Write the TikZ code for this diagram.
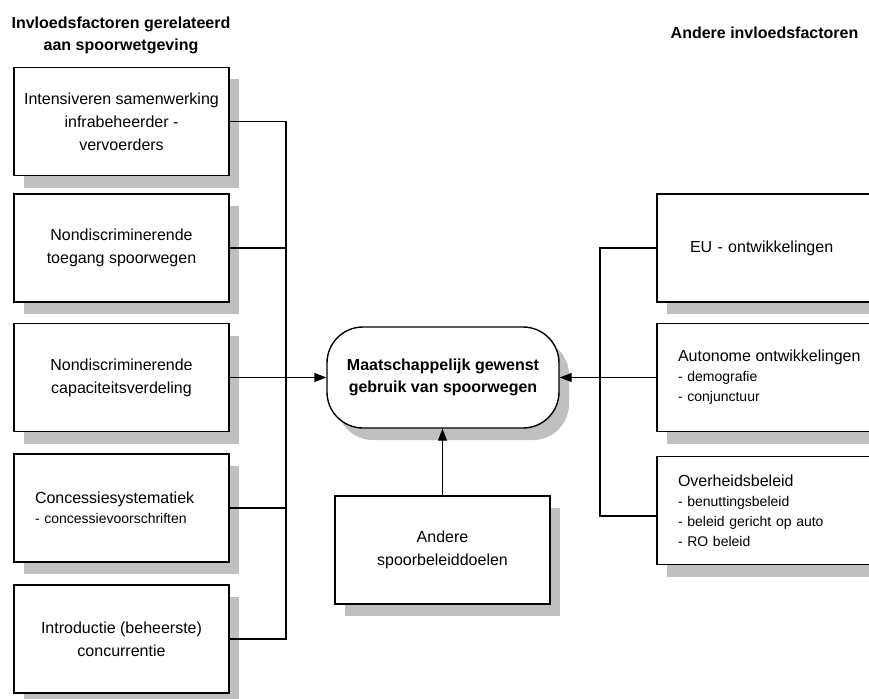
\documentclass[tikz,border=0pt]{standalone}
\usepackage{fontspec}
\setmainfont{Liberation Sans}
\usetikzlibrary{arrows.meta,shadows,calc}
\definecolor{shadowgray}{HTML}{C0C0C0}
\tikzset{
  boxbase/.style={draw=black, line width=1.4pt, fill=white, rectangle, inner sep=0pt,
    general shadow={fill=shadowgray, shadow xshift=10pt, shadow yshift=-12pt}},
  leftbox/.style={boxbase, minimum width=215pt, minimum height=108pt, align=center,
    font=\fontsize{16}{23}\selectfont},
  listbox/.style={boxbase, minimum width=215pt, minimum height=108pt, align=left,
    text width=173pt, inner xsep=21pt, font=\fontsize{14}{20}\selectfont},
  rightbox/.style={boxbase, minimum width=240pt, minimum height=108pt, align=left,
    text width=198pt, inner xsep=21pt, font=\fontsize{14}{20}\selectfont},
  goalbox/.style={boxbase, rounded corners=36pt, minimum width=232pt, minimum height=101pt,
    align=center, font=\bfseries\fontsize{16}{22}\selectfont},
  title/.style={font=\bfseries\fontsize{16}{22}\selectfont, align=center, inner sep=0pt},
  link/.style={line width=1.4pt},
  arrowlink/.style={link, -{Triangle[length=12pt,width=9pt]}}
}
\begin{document}
\begin{tikzpicture}[x=1pt,y=-1pt]
  \useasboundingbox (0,0) rectangle (869,698);
  \clip (0,0) rectangle (869,698);

  % column headings
  \node[title] (tl) at (121,35) {Invloedsfactoren gerelateerd\\aan spoorwetgeving};
  \node[title, anchor=base] (tr) at (764.5,39) {Andere invloedsfactoren};

  % factors related to railway legislation
  \node[leftbox] (b1) at (121.5,121.5) {Intensiveren samenwerking\\infrabeheerder -\\vervoerders};
  \node[leftbox] (b2) at (121.5,248) {Nondiscriminerende\\toegang spoorwegen};
  \node[leftbox] (b3) at (121.5,377.5) {Nondiscriminerende\\capaciteitsverdeling};
  \node[listbox] (b4) at (121.5,508) {{\fontsize{16}{20}\selectfont Concessiesystematiek}\\- concessievoorschriften};
  \node[leftbox] (b5) at (121.5,639) {Introductie (beheerste)\\concurrentie};

  % central goal and other rail policy goals
  \node[goalbox] (c) at (443,377.5) {Maatschappelijk gewenst\\gebruik van spoorwegen};
  \node[leftbox] (an) at (442.5,550) {Andere\\spoorbeleiddoelen};

  % other factors
  \node[rightbox, inner xsep=33pt, text width=174pt, font=\fontsize{16}{20}\selectfont] (eu) at (777,248) {EU - ontwikkelingen};
  \node[rightbox] (aut) at (777,377.5) {{\fontsize{16}{20}\selectfont Autonome ontwikkelingen}\\- demografie\\- conjunctuur};
  \node[rightbox] (ov) at (777,510.5) {{\fontsize{16}{20}\selectfont Overheidsbeleid}\\- benuttingsbeleid\\- beleid gericht op auto\\- RO beleid};

  % collector lines
  \coordinate (lj) at (286,0);
  \coordinate (rj) at (600,0);
  \draw[link] (b1.east) -- (b1.east -| lj) -- (b5.east -| lj) -- (b5.east);
  \draw[link] (b2.east) -- (b2.east -| lj);
  \draw[link] (b4.east) -- (b4.east -| lj);
  \draw[arrowlink] (b3.east) -- (c.west);

  \draw[link] (eu.west) -- (eu.west -| rj) -- ([yshift=-5.5pt]ov.west -| rj) -- ([yshift=-5.5pt]ov.west);
  \draw[arrowlink] (aut.west) -- (c.east);

  \draw[arrowlink] (an.north) -- (an.north |- c.south);
\end{tikzpicture}
\end{document}
